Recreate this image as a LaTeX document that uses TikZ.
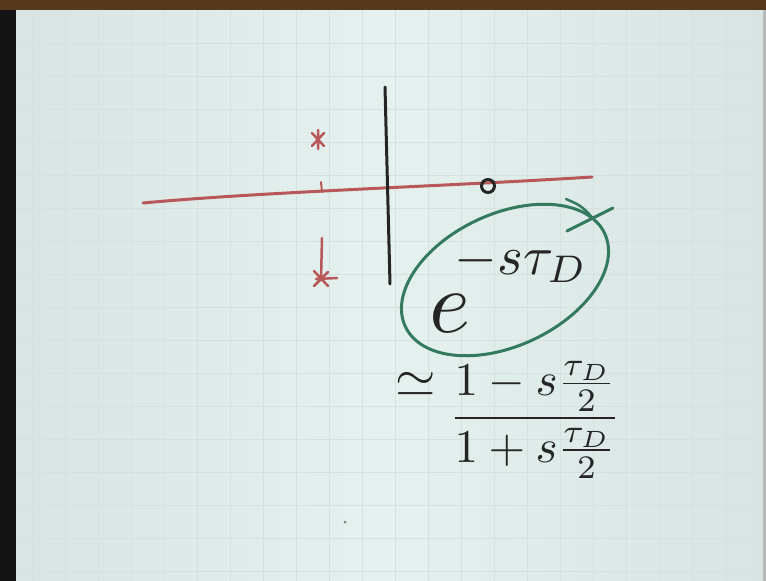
\documentclass[tikz,border=0pt]{standalone}
\usepackage{fontspec}
\usepackage{amsmath}
\usepackage{graphicx}

\definecolor{paper}{RGB}{228,241,238}
\definecolor{papershade}{RGB}{216,228,228}
\definecolor{gridline}{RGB}{212,225,223}
\definecolor{redpen}{RGB}{184,88,88}
\definecolor{greenpen}{RGB}{52,122,94}
\definecolor{blackpen}{RGB}{36,38,38}

\tikzset{
    pen/.style={line width=3pt, line cap=round, line join=round},
    handtext/.style={text=blackpen, inner sep=0pt}
}

\begin{document}
\begin{tikzpicture}[x=1pt, y=-1pt]

    \def\W{766}
    \def\H{581}

    % sheet
    \useasboundingbox (0,0) rectangle (\W,\H);
    \shade[left color=papershade, right color=papershade, middle color=paper]
        (0,0) rectangle (\W,\H);

    % grid
    \foreach \x in {32,65,...,760}{
        \draw[gridline, line width=0.8pt] (\x,10) -- (\x,\H);
    }
    \foreach \y in {43,76,...,580}{
        \draw[gridline, line width=0.8pt] (16,\y) -- (\W,\y);
    }

    % edges of the photo
    \fill[black!92] (0,0) rectangle (16,\H);
    \fill[brown!45!black] (0,0) rectangle (\W,10);
    \fill[gray!55] (763,10) rectangle (\W,\H);

    % axis
    \draw[pen, redpen]
        (143,203) .. controls (260,192) and (450,186) .. (592,177);
    \draw[pen, blackpen] (385,87) -- (390,284);
    \draw[pen, redpen, line width=2pt] (321,182) -- (322,192);

    % poles
    \draw[pen, redpen, line width=2.5pt]
        (312,133) -- (324,146)
        (312,146) -- (324,133)
        (318,130) -- (318,149);
    \draw[pen, redpen, line width=2.5pt]
        (322,238) -- (321,280)
        (314,271) -- (328,286)
        (314,286) -- (328,272)
        (316,279) -- (337,278);

    % zero
    \draw[pen, blackpen] (488,186) circle (6.5);

    % circled delay
    \draw[pen, greenpen, rotate around={25:(505,280)}]
        (505,280) ellipse (110 and 66);
    \draw[pen, greenpen, line width=2.5pt]
        (566,199) .. controls (582,206) .. (598,224);
    \draw[pen, greenpen] (567,231) -- (613,208);

    \node[handtext, scale=5.5, anchor=base west] (expo) at (428,332)
        {$\scalebox{1.6}{$e$}\mkern-5mu\raisebox{10.5pt}{$-s\tau_D$}$};

    % pade approximation
    \node[handtext, scale=5.2] (approx) at (416,384) {$\simeq$};
    \node[handtext, scale=4.7] (ratio) at (535,420)
        {$\dfrac{1-s\frac{\tau_D}{2}}{1+s\frac{\tau_D}{2}}$};

    \fill[blackpen!60] (345,522) circle (1.5);
\end{tikzpicture}
\end{document}
